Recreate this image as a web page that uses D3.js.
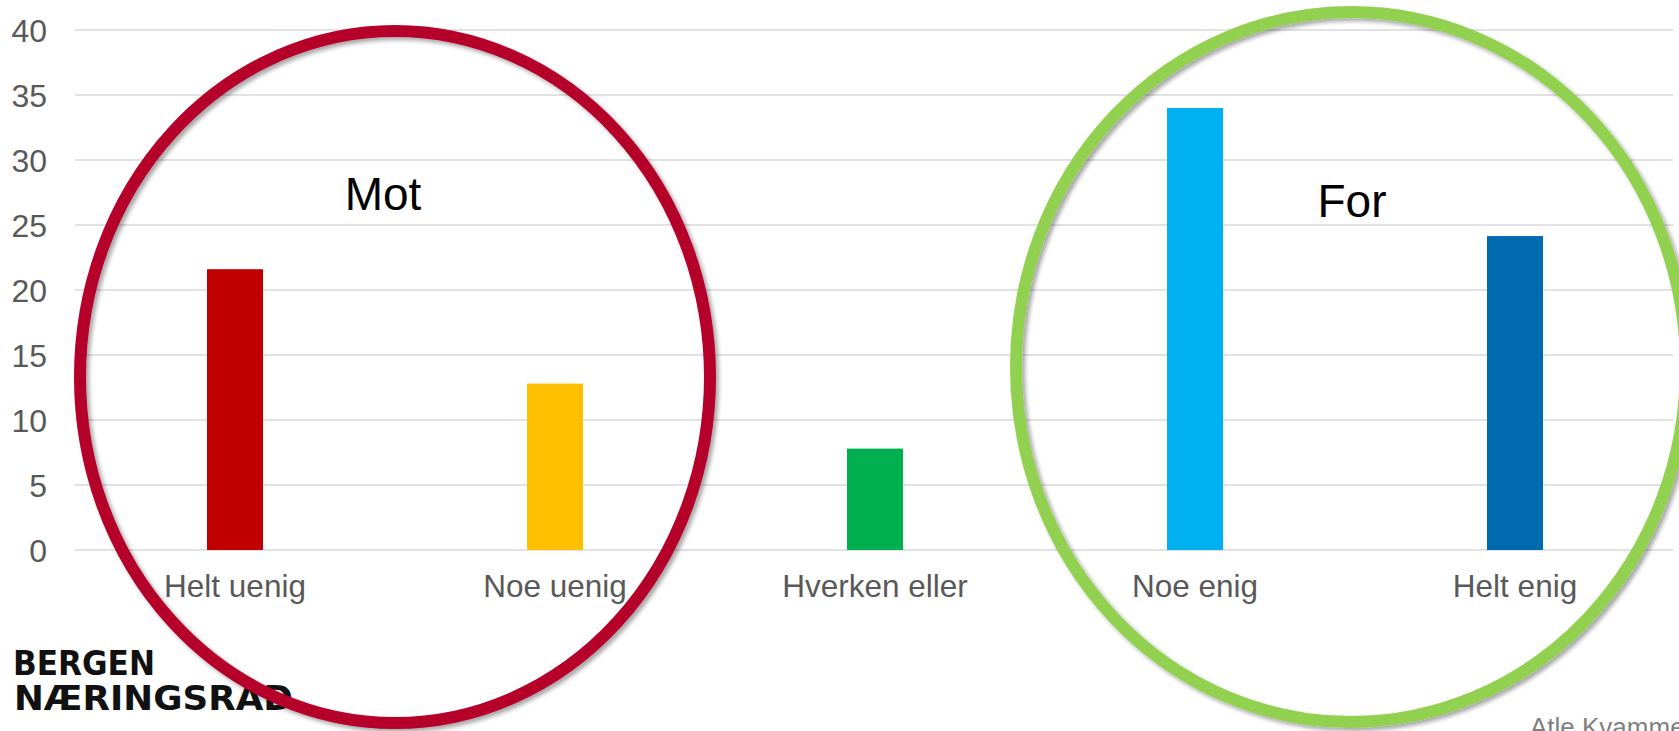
<!DOCTYPE html>
<html>
<head>
<meta charset="utf-8">
<script src="https://cdn.jsdelivr.net/npm/d3@7"></script>
<style>
  html, body { margin: 0; padding: 0; background: #fff; overflow: hidden; }
  svg { display: block; }
</style>
</head>
<body>
<svg id="chart" width="1679" height="731"></svg>
<script>
// ---- data ----
const categories = ["Helt uenig", "Noe uenig", "Hverken eller", "Noe enig", "Helt enig"];
const values = [21.6, 12.8, 7.8, 34.0, 24.15];
const barColors = ["#C00000", "#FFC000", "#00B050", "#00B0F0", "#006AAE"];
const yTicks = [0, 5, 10, 15, 20, 25, 30, 35, 40];
const groupLabels = ["Mot", "For"];
const logoLines = ["BERGEN", "NÆRINGSRÅD"];
const author = "Atle Kvammen";

// ---- layout ----
const plot = { left: 75, right: 1675, top: 30, bottom: 550 };

const svg = d3.select("#chart");

const defs = svg.append("defs");
const f = defs.append("filter").attr("id", "shadow")
  .attr("x", "-10%").attr("y", "-10%").attr("width", "120%").attr("height", "120%");
f.append("feDropShadow").attr("dx", 3).attr("dy", 3).attr("stdDeviation", 2)
  .attr("flood-color", "#000").attr("flood-opacity", 0.35);

const x = d3.scaleBand().domain(categories).range([plot.left, plot.right]).paddingInner(0.825).paddingOuter(0.4125);
const y = d3.scaleLinear().domain([0, 40]).range([plot.bottom, plot.top]);

// gridlines
svg.append("g").selectAll("line").data(yTicks).join("line")
  .attr("x1", plot.left).attr("x2", 1673)
  .attr("y1", d => y(d)).attr("y2", d => y(d))
  .attr("stroke", "#D9D9D9").attr("stroke-width", 1.4);

// y axis labels
const yAxis = d3.axisLeft(y).tickValues(yTicks).tickSize(0).tickPadding(0);
const yg = svg.append("g").attr("transform", "translate(47,0)").call(yAxis);
yg.select(".domain").remove();
yg.selectAll("text")
  .attr("font-family", "Liberation Sans, Arial, sans-serif")
  .attr("font-size", 32).attr("fill", "#595959").attr("dy", "0.35em");

// bars
svg.append("g").selectAll("rect").data(categories).join("rect")
  .attr("x", d => x(d)).attr("width", x.bandwidth())
  .attr("y", (d, i) => y(values[i]))
  .attr("height", (d, i) => y(0) - y(values[i]))
  .attr("fill", (d, i) => barColors[i]);

// category labels
const xAxis = d3.axisBottom(x).tickSize(0).tickPadding(0);
const xg = svg.append("g").attr("transform", `translate(0,${plot.bottom})`).call(xAxis);
xg.select(".domain").remove();
xg.selectAll("text")
  .attr("font-family", "Liberation Sans, Arial, sans-serif")
  .attr("font-size", 31.5).attr("fill", "#595959")
  .attr("y", 47).attr("dy", 0);

// group labels
const groupPos = [[383, 210], [1352, 217]];
svg.append("g").selectAll("text").data(groupLabels).join("text")
  .attr("x", (d, i) => groupPos[i][0]).attr("y", (d, i) => groupPos[i][1])
  .attr("text-anchor", "middle")
  .attr("font-family", "Liberation Sans, Arial, sans-serif")
  .attr("font-size", 46).attr("fill", "#000")
  .text(d => d);

// logo
const logo = svg.append("g");
logo.append("text").attr("x", 13).attr("y", 675)
  .attr("font-family", "DejaVu Sans Condensed, DejaVu Sans, sans-serif").attr("font-weight", 700)
  .attr("font-size", 33).attr("fill", "#111")
  .attr("textLength", 142).attr("lengthAdjust", "spacingAndGlyphs")
  .text(logoLines[0]);
logo.append("text").attr("x", 14).attr("y", 710)
  .attr("font-family", "DejaVu Sans Condensed, DejaVu Sans, sans-serif").attr("font-weight", 700)
  .attr("font-size", 33).attr("fill", "#111")
  .attr("textLength", 279).attr("lengthAdjust", "spacingAndGlyphs")
  .text(logoLines[1]);

// author
svg.append("text").attr("x", 1530).attr("y", 736)
  .attr("font-family", "Liberation Sans, Arial, sans-serif")
  .attr("font-size", 26).attr("fill", "#7F7F7F")
  .text(author);

// circles
const rings = [
  { cx: 395, cy: 377, rx: 315, ry: 346, color: "#B5002B" },
  { cx: 1351, cy: 367, rx: 335, ry: 355, color: "#92D050" }
];
svg.append("g").selectAll("ellipse").data(rings).join("ellipse")
  .attr("cx", d => d.cx).attr("cy", d => d.cy)
  .attr("rx", d => d.rx).attr("ry", d => d.ry)
  .attr("fill", "none").attr("stroke", d => d.color).attr("stroke-width", 12)
  .attr("filter", "url(#shadow)");
</script>
</body>
</html>
